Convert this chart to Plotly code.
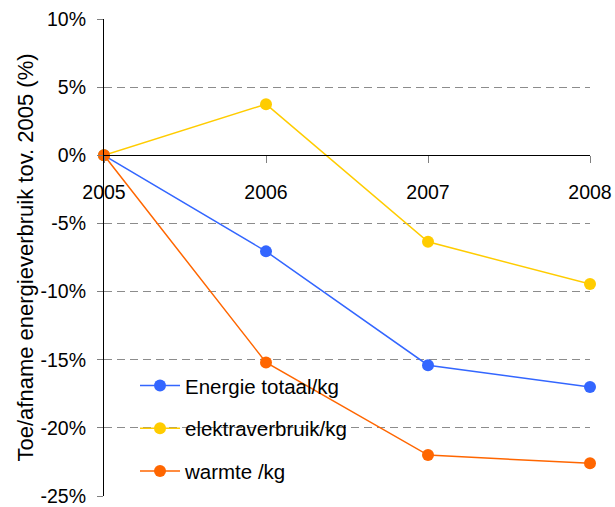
import plotly.graph_objects as go

years = [2005, 2006, 2007, 2008]
energie_totaal = [0.0, -7.05, -15.4, -17.0]
elektraverbruik = [0.0, 3.75, -6.35, -9.45]
warmte = [0.0, -15.2, -22.0, -22.6]

series_names = ["Energie totaal/kg", "elektraverbruik/kg", "warmte /kg"]
series_colors = ["#3366FF", "#FFCC00", "#FF6600"]

y_tickvals = [10, 5, 0, -5, -10, -15, -20, -25]
y_ticktext = ["10%", "5%", "0%", "-5%", "-10%", "-15%", "-20%", "-25%"]
x_ticktext = ["2005", "2006", "2007", "2008"]

FONT = "Liberation Sans, Arial, sans-serif"

fig = go.Figure()
for i, (name, vals, col) in enumerate(zip(series_names,
                                          [energie_totaal, elektraverbruik, warmte],
                                          series_colors)):
    fig.add_trace(go.Scatter(
        x=years, y=vals, name=name, mode="lines+markers",
        line=dict(color=col, width=1.5),
        marker=dict(color=col, size=12),
        cliponaxis=False,
        legendgroup=f"g{i}",
    ))

fig.update_layout(
    width=615, height=507,
    margin=dict(l=104, r=25, t=19, b=11),
    paper_bgcolor="white", plot_bgcolor="white",
    font=dict(family=FONT, color="black", size=19.5),
    showlegend=True,
    legend=dict(
        x=0.0638, y=0.273, xanchor="left", yanchor="top",
        bgcolor="rgba(0,0,0,0)", borderwidth=0,
        font=dict(size=20.5, family=FONT, color="black"),
        tracegroupgap=13, traceorder="grouped", itemwidth=40,
    ),
    xaxis=dict(
        range=[2005, 2008],
        tickvals=years, ticktext=x_ticktext,
        anchor="free", position=25 / 35,
        showline=True, linecolor="black", linewidth=1.2,
        ticks="outside", ticklen=7, tickcolor="#808080", tickwidth=1,
        showgrid=False, zeroline=False,
        ticklabelstandoff=12,
        tickfont=dict(size=19.5),
        automargin=False,
    ),
    yaxis=dict(
        range=[-25, 10],
        tickvals=y_tickvals, ticktext=y_ticktext,
        showline=True, linecolor="black", linewidth=1.2,
        ticks="outside", ticklen=6, tickcolor="#808080", tickwidth=1,
        showgrid=True, gridcolor="#8c8c8c", gridwidth=1, griddash="8px,5px",
        zeroline=False,
        ticklabelstandoff=7,
        tickfont=dict(size=19.5),
        automargin=False,
        title=dict(text="Toe/afname energieverbruik tov. 2005 (%)",
                   font=dict(size=22), standoff=0),
    ),
)

fig.write_html("out.html", config={"displayModeBar": False},
               post_script="document.body.style.margin='0';document.body.style.padding='0';")
